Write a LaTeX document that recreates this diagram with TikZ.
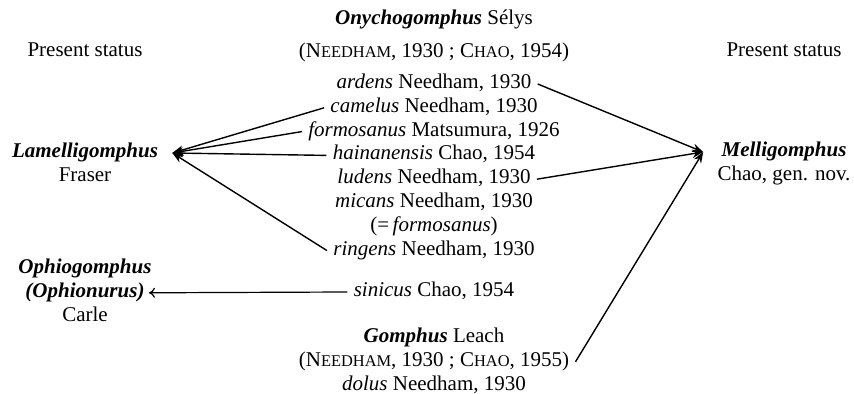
\documentclass[tikz,border=0pt]{standalone}
\usepackage{fontspec}
\setmainfont{Liberation Serif}
\usetikzlibrary{positioning,arrows.meta}

\newcommand{\fakesc}[2]{#1{\fontsize{8.2}{8.2}\selectfont #2}}
\newcommand{\genus}[1]{\textbf{\textit{#1}}}

\begin{document}
\begin{tikzpicture}[
    x=0.5pt, y=-0.5pt,
    node distance=0pt,
    line/.style={inner xsep=3pt, inner ysep=0pt, text height=8pt, text depth=3.5pt,
        font=\fontsize{10.5}{11.5}\selectfont},
    status/.style={inner xsep=3pt, inner ysep=0pt, text height=8pt, text depth=3.5pt,
        font=\fontsize{10.5}{11.5}\selectfont},
    arrow/.style={-{Stealth[length=5.5pt, width=4.2pt]}, line width=0.7pt},
    thinarrow/.style={-{To[length=3pt, width=5pt]}, line width=0.6pt}
]
    \useasboundingbox (0,0) rectangle (854,394);

    % middle column
    \node[line] (ony) at (434,20) {\genus{Onychogomphus} Sélys};
    \node[line] (ref1) at (434,53) {(\fakesc{N}{EEDHAM}, 1930 ; \fakesc{C}{HAO}, 1954)};
    \node[line] (ard) at (434,84) {\textit{ardens} Needham, 1930};
    \node[line, below=of ard] (cam) {\textit{camelus} Needham, 1930};
    \node[line, below=of cam] (frm) {\textit{formosanus} Matsumura, 1926};
    \node[line, below=of frm] (hai) {\textit{hainanensis} Chao, 1954};
    \node[line, below=of hai] (lud) {\textit{ludens} Needham, 1930};
    \node[line, below=of lud] (mic) {\textit{micans} Needham, 1930};
    \node[line, below=of mic] (syn) {(=\,\textit{formosanus})};
    \node[line, below=of syn] (rin) {\textit{ringens} Needham, 1930};
    \node[line] (sin) at (434,292) {\textit{sinicus} Chao, 1954};
    \node[line] (gom) at (434,338) {\genus{Gomphus} Leach};
    \node[line, below=of gom] (ref2) {(\fakesc{N}{EEDHAM}, 1930 ; \fakesc{C}{HAO}, 1955)};
    \node[line, below=of ref2] (dol) {\textit{dolus} Needham, 1930};

    % left column
    \node[status] (stl) at (85,52) {Present status};
    \node[status, inner xsep=7pt] (lam) at (85,153) {\genus{Lamelligomphus}};
    \node[status, below=of lam] (lamau) {Fraser};
    \node[status] (oph) at (85,269) {\genus{Ophiogomphus}};
    \node[status, below=of oph, inner xsep=2pt] (ophsub) {\genus{(Ophionurus)}};
    \node[status, below=of ophsub] (ophau) {Carle};

    % right column
    \node[status] (str) at (784,52) {Present status};
    \node[status, inner xsep=9pt] (mel) at (784,152) {\genus{Melligomphus}};
    \node[status, below=of mel] (melau) {Chao, gen. nov.};

    \draw[arrow] (cam.west) -- (lam.east);
    \draw[arrow] (frm.west) -- (lam.east);
    \draw[arrow] (hai.west) -- (lam.east);
    \draw[arrow] (rin.west) -- (lam.east);

    \draw[arrow] (ard.east) -- (mel.west);
    \draw[arrow] (lud.east) -- (mel.west);
    \draw[arrow] (ref2.east) -- (mel.west);

    \draw[thinarrow] (sin.west) -- (ophsub.east);
\end{tikzpicture}
\end{document}
